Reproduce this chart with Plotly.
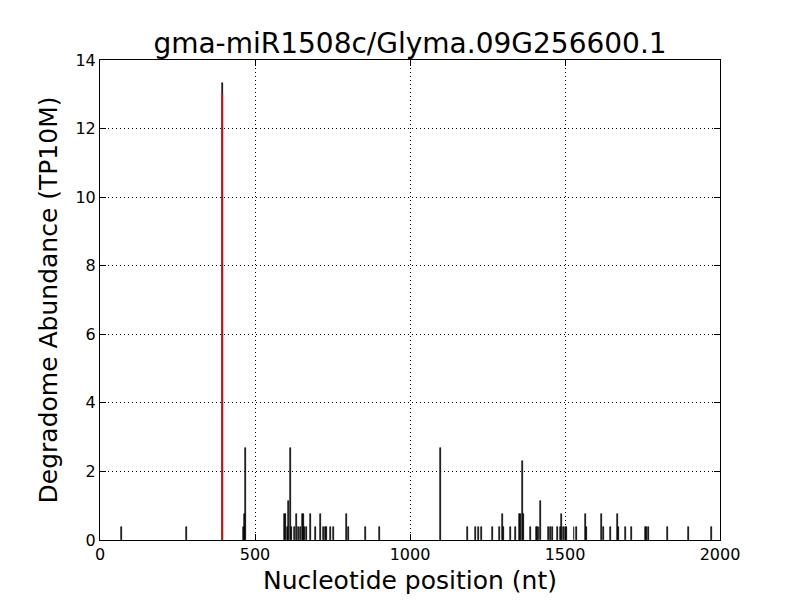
import plotly.graph_objects as go

title_text = "gma-miR1508c/Glyma.09G256600.1"
x_label = "Nucleotide position (nt)"
y_label = "Degradome Abundance (TP10M)"

positions = [69, 278, 395, 462, 466, 468, 594, 599, 604, 607, 614, 619, 627, 634, 640,
             647, 653, 656, 661, 667, 679, 694, 711, 720, 728, 731, 745, 753, 795, 803,
             856, 901, 1097, 1185, 1211, 1221, 1232, 1266, 1288, 1298, 1302, 1324, 1340,
             1353, 1357, 1362, 1365, 1388, 1407, 1411, 1416, 1421, 1448, 1454, 1460, 1475,
             1484, 1490, 1494, 1501, 1505, 1529, 1538, 1566, 1570, 1618, 1624, 1646, 1670,
             1673, 1694, 1714, 1759, 1764, 1768, 1832, 1898, 1973]
abundance = [0.38, 0.38, 13.33, 0.38, 0.76, 2.67, 0.76, 0.76, 0.38, 1.14, 2.67, 0.38, 0.38, 0.76, 0.38,
             0.38, 0.76, 0.76, 0.38, 0.38, 0.76, 0.38, 0.76, 0.38, 0.38, 0.38, 0.38, 0.38, 0.76, 0.38,
             0.38, 0.38, 2.67, 0.38, 0.38, 0.38, 0.38, 0.38, 0.38, 0.76, 0.38, 0.38, 0.38,
             0.76, 0.76, 2.29, 0.76, 0.38, 0.38, 0.38, 0.38, 1.14, 0.38, 0.38, 0.38, 0.38,
             0.38, 0.76, 0.38, 0.38, 0.38, 0.38, 0.38, 0.76, 0.38, 0.76, 0.38, 0.38, 0.76,
             0.38, 0.38, 0.38, 0.38, 0.38, 0.38, 0.38, 0.38, 0.38]

target_position = [395]
target_abundance = [13.0]

x_ticks = [0, 500, 1000, 1500, 2000]
y_ticks = [0, 2, 4, 6, 8, 10, 12, 14]

font = "DejaVu Sans"

fig = go.Figure()
fig.add_trace(go.Bar(x=positions, y=abundance, width=3,
                     marker=dict(color="black", line=dict(color="black", width=0.6)),
                     showlegend=False))
fig.add_trace(go.Bar(x=target_position, y=target_abundance, width=5,
                     marker=dict(color="red", line=dict(color="red", width=0.5)),
                     showlegend=False))

axis_common = dict(showline=True, linecolor="black", linewidth=1, mirror="ticks",
                   ticks="inside", ticklen=6, tickcolor="black", tickwidth=1,
                   showgrid=True, gridcolor="black", griddash="1px,3px", gridwidth=1,
                   zeroline=False, tickfont=dict(family=font, size=16, color="black"))

fig.update_layout(
    width=800, height=600,
    paper_bgcolor="white", plot_bgcolor="white",
    margin=dict(l=92, r=88, t=52, b=68),
    barmode="overlay", bargap=0,
    title=dict(text=title_text, x=0.5, xref="paper", xanchor="center", y=0.942, yanchor="middle",
               font=dict(family=font, size=28, color="black")),
    xaxis=dict(range=[0, 2000], tickvals=x_ticks, title=dict(text=x_label, standoff=8,
               font=dict(family=font, size=25, color="black")), **axis_common),
    yaxis=dict(range=[0, 14], tickvals=y_ticks, title=dict(text=y_label, standoff=10,
               font=dict(family=font, size=25, color="black")), **axis_common),
)

fig.write_html("out.html")
